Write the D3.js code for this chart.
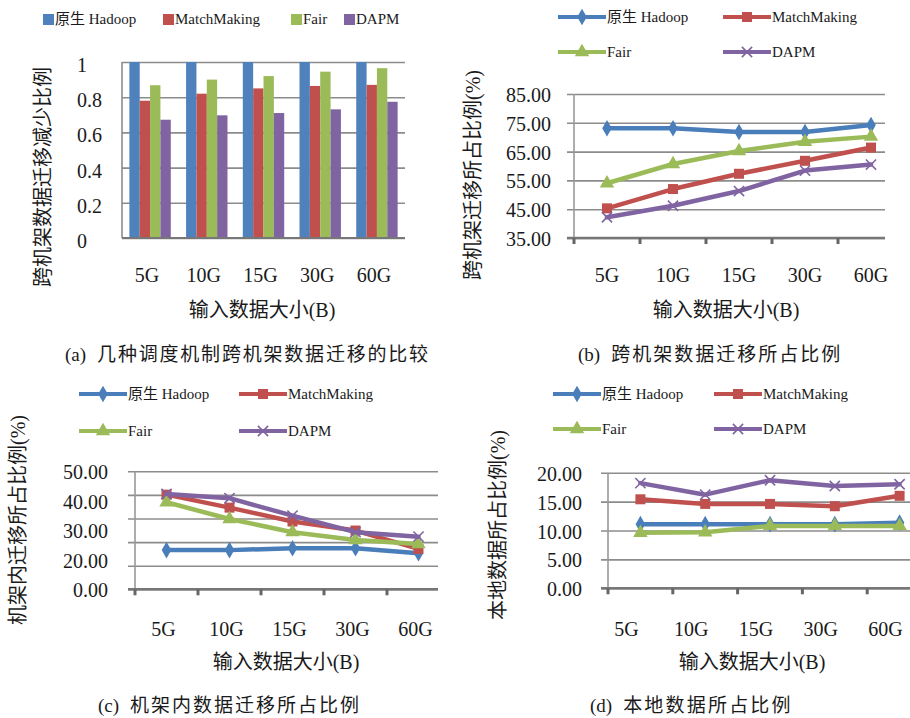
<!DOCTYPE html>
<html>
<head>
<meta charset="utf-8">
<script src="https://cdn.jsdelivr.net/npm/d3@7"></script>
<style>
  body { margin: 0; background: #fff; }
  svg text { font-family: "Liberation Serif", "Times New Roman", "Noto Sans CJK SC", serif; fill: #1a1a1a; }
</style>
</head>
<body>
<svg id="fig" width="910" height="718"></svg>
<script>
const categories = ['5G', '10G', '15G', '30G', '60G']
const seriesNames = ['原生 Hadoop', 'MatchMaking', 'Fair', 'DAPM']

// (a) 跨机架数据迁移减少比例
const reductionHadoop = [1, 1, 1, 1, 1]
const reductionMatch = [0.78, 0.82, 0.85, 0.864, 0.87]
const reductionFair = [0.868, 0.90, 0.92, 0.945, 0.965]
const reductionDapm = [0.672, 0.697, 0.71, 0.731, 0.774]
const reductionTicks = [0, 0.2, 0.4, 0.6, 0.8, 1]

// (b) 跨机架迁移所占比例
const crossHadoop = [73.1, 73.1, 71.8, 71.8, 74.2]
const crossMatch = [45.3, 52.0, 57.3, 61.8, 66.4]
const crossFair = [54.0, 60.7, 65.2, 68.4, 70.2]
const crossDapm = [42.2, 46.2, 51.3, 58.4, 60.5]
const crossTicks = [35, 45, 55, 65, 75, 85]

// (c) 机架内迁移所占比例
const intraHadoop = [16.6, 16.6, 17.4, 17.4, 15.3]
const intraMatch = [40.1, 34.6, 28.7, 24.9, 17.1]
const intraFair = [36.9, 29.8, 24.2, 20.9, 19.2]
const intraDapm = [40.4, 38.6, 31.2, 24.2, 22.3]
const intraGrid = [0, 10, 20, 30, 40, 50]
const intraTickLabels = ['50.00', '40.00', '30.00', '20.00', '0.00']

// (d) 本地数据所占比例
const localHadoop = [11.1, 11.1, 11.1, 11.1, 11.35]
const localMatch = [15.4, 14.6, 14.6, 14.2, 16.0]
const localFair = [9.6, 9.7, 10.8, 10.8, 10.8]
const localDapm = [18.2, 16.2, 18.7, 17.7, 18.0]
const localTicks = [0, 5, 10, 15, 20]

const colors = ['#4a7ebb', '#c0504d', '#9bbb59', '#8064a2']
const symbols = [d3.symbolDiamond, d3.symbolSquare, d3.symbolTriangle, d3.symbolTimes]
const symbolSizes = [80, 100, 90, 70]

const svg = d3.select('#fig')

/**
 * Draws a series marker (diamond, square, triangle or x) at a point.
 */
function drawMarker (g, i, cx, cy) {
  const p = g.append('path')
    .attr('d', d3.symbol(symbols[i], symbolSizes[i])())
    .attr('transform', 'translate(' + cx + ',' + cy + ')')
  if (i === 3) {
    p.attr('fill', 'none').attr('stroke', colors[i]).attr('stroke-width', 1.6)
  } else {
    p.attr('fill', colors[i])
  }
}

/**
 * Draws the rotated y title, x title and caption of a panel.
 */
function drawTitles (cfg) {
  svg.append('text')
    .attr('transform', 'translate(' + cfg.yTitle[0] + ',' + cfg.yTitle[1] + ') rotate(-90)')
    .attr('text-anchor', 'middle')
    .attr('dominant-baseline', 'central')
    .style('font-size', '20px')
    .text(cfg.yLabel)

  svg.append('text')
    .attr('x', cfg.xTitle[0])
    .attr('y', cfg.xTitle[1])
    .attr('text-anchor', 'middle')
    .style('font-size', '20px')
    .text('输入数据大小(B)')

  const cap = svg.append('text')
    .attr('x', cfg.caption[0])
    .attr('y', cfg.caption[1])
    .style('font-size', '19px')
  cap.append('tspan').text(cfg.captionTag)
  cap.append('tspan')
    .attr('dx', 11)
    .style('letter-spacing', cfg.captionSpacing + 'px')
    .text(cfg.captionText)
}

/**
 * Panel (a): grouped bar chart.
 */
function drawBarPanel () {
  const left = 122
  const right = 405
  const top = 62
  const bottom = 238
  const series = [reductionHadoop, reductionMatch, reductionFair, reductionDapm]

  const x0 = d3.scaleBand().domain(categories).range([left, right])
    .paddingInner(0.27).paddingOuter(0.13)
  const x1 = d3.scaleBand().domain(d3.range(series.length)).range([0, x0.bandwidth()])
  const y = d3.scaleLinear().domain([0, 1]).range([bottom, top])

  const g = svg.append('g')

  g.append('g')
    .attr('transform', 'translate(' + left + ',0)')
    .call(d3.axisLeft(y).tickValues(reductionTicks).tickSize(-(right - left)).tickFormat(''))
    .call(a => a.select('.domain').remove())
    .call(a => a.selectAll('line').attr('stroke', '#8c8c8c').attr('stroke-width', 1.6))

  categories.forEach((c, ci) => {
    series.forEach((s, si) => {
      g.append('rect')
        .attr('x', x0(c) + x1(si))
        .attr('y', y(s[ci]))
        .attr('width', x1.bandwidth())
        .attr('height', y(0) - y(s[ci]))
        .attr('fill', si === 0 ? '#4f81bd' : colors[si])
    })
  })

  g.append('line').attr('x1', left).attr('x2', left).attr('y1', top).attr('y2', bottom)
    .attr('stroke', '#8c8c8c').attr('stroke-width', 1.6)
  g.append('line').attr('x1', left).attr('x2', right).attr('y1', y(0)).attr('y2', y(0))
    .attr('stroke', '#777').attr('stroke-width', 2.2)

  g.selectAll('.ylab').data(reductionTicks).join('text')
    .attr('x', 77)
    .attr('y', d => y(d) + 3)
    .attr('dominant-baseline', 'central')
    .style('font-size', '20px')
    .text(d => d3.format('~g')(d))

  g.selectAll('.xlab').data(categories).join('text')
    .attr('x', d => x0(d) + x0.bandwidth() / 2 - 3)
    .attr('y', 282)
    .attr('text-anchor', 'middle')
    .style('font-size', '20px')
    .text(d => d)

  // legend
  const legendX = [43, 163, 291, 344]
  seriesNames.forEach((n, i) => {
    g.append('rect').attr('x', legendX[i]).attr('y', 14).attr('width', 11).attr('height', 11)
      .attr('fill', i === 0 ? '#4f81bd' : colors[i])
    g.append('text').attr('x', legendX[i] + 12).attr('y', 24)
      .style('font-size', '15px').text(n)
  })

  drawTitles({
    yTitle: [43, 177],
    yLabel: '跨机架数据迁移减少比例',
    xTitle: [262, 317],
    caption: [65, 361],
    captionSpacing: 1.8,
    captionTag: '(a)',
    captionText: '几种调度机制跨机架数据迁移的比较'
  })
}

/**
 * Panels (b), (c), (d): line charts with markers.
 */
function drawLinePanel (cfg) {
  const x = d3.scaleBand().domain(categories)
    .range([cfg.left, cfg.left + cfg.step * categories.length])
  const y = d3.scaleLinear().domain(cfg.domain).range([cfg.bottom, cfg.top])
  const cx = c => x(c) + x.bandwidth() / 2

  const g = svg.append('g')

  // gridlines with short ticks left of the axis
  g.append('g')
    .attr('transform', 'translate(' + (cfg.left - 7) + ',0)')
    .call(d3.axisLeft(y).tickValues(cfg.grid).tickSize(-(cfg.right - cfg.left + 7)).tickFormat(''))
    .call(a => a.select('.domain').remove())
    .call(a => a.selectAll('line').attr('stroke', '#8c8c8c').attr('stroke-width', 1.6))

  g.append('line').attr('x1', cfg.left).attr('x2', cfg.left).attr('y1', cfg.top).attr('y2', cfg.bottom)
    .attr('stroke', '#999').attr('stroke-width', 1.6)
  g.append('line').attr('x1', cfg.left - 7).attr('x2', cfg.right).attr('y1', cfg.bottom).attr('y2', cfg.bottom)
    .attr('stroke', '#777').attr('stroke-width', 2.4)

  g.selectAll('.xtick').data(categories).join('line')
    .attr('x1', d => x(d)).attr('x2', d => x(d))
    .attr('y1', cfg.bottom).attr('y2', cfg.bottom + 6)
    .attr('stroke', '#666').attr('stroke-width', 3)

  // y tick labels
  const labelScale = cfg.labelScale || y
  const labels = cfg.tickLabels || cfg.grid
  g.selectAll('.ylab').data(labels).join('text')
    .attr('x', cfg.labelX)
    .attr('y', d => labelScale(d) + 1)
    .attr('text-anchor', 'end')
    .attr('dominant-baseline', 'central')
    .style('font-size', '20px')
    .text(d => typeof d === 'number' ? d3.format('.2f')(d) : d)

  g.selectAll('.xlab').data(categories).join('text')
    .attr('x', d => cx(d) + cfg.xLabelDx)
    .attr('y', cfg.xLabelY)
    .attr('text-anchor', 'middle')
    .style('font-size', '20px')
    .text(d => d)

  const line = d3.line().x((d, i) => cx(categories[i])).y(d => y(d))

  cfg.series.forEach((s, si) => {
    g.append('path')
      .attr('d', line(s))
      .attr('fill', 'none')
      .attr('stroke', colors[si])
      .attr('stroke-width', 4.5)
      .attr('stroke-linejoin', 'round')
      .attr('stroke-linecap', 'round')
    s.forEach((v, i) => drawMarker(g, si, cx(categories[i]), y(v)))
  })

  // legend
  seriesNames.forEach((n, i) => {
    const lx = cfg.legendX[i % 2]
    const ly = cfg.legendY[Math.floor(i / 2)]
    g.append('line').attr('x1', lx).attr('x2', lx + 48).attr('y1', ly).attr('y2', ly)
      .attr('stroke', colors[i]).attr('stroke-width', 4)
    drawMarker(g, i, lx + 24, ly)
    g.append('text').attr('x', lx + 49).attr('y', ly)
      .attr('dominant-baseline', 'central')
      .style('font-size', '15px').text(n)
  })

  drawTitles(cfg)
}

drawBarPanel()

drawLinePanel({
  left: 574, step: 66, right: 885, top: 94, bottom: 238,
  domain: [35, 85], grid: crossTicks,
  series: [crossHadoop, crossMatch, crossFair, crossDapm],
  labelX: 551, xLabelY: 282, xLabelDx: 0,
  legendX: [558, 723], legendY: [17, 52],
  yTitle: [473, 175], yLabel: '跨机架迁移所占比例(%)',
  xTitle: [726, 317],
  caption: [578, 361], captionSpacing: 2,
  captionTag: '(b)',
  captionText: '跨机架数据迁移所占比例'
})

const intraLabelScale = d3.scalePoint().domain(intraTickLabels).range([471.3, 589.3])

drawLinePanel({
  left: 135, step: 63, right: 438, top: 471.3, bottom: 589.3,
  domain: [0, 50], grid: intraGrid,
  tickLabels: intraTickLabels, labelScale: intraLabelScale,
  series: [intraHadoop, intraMatch, intraFair, intraDapm],
  labelX: 108, xLabelY: 636, xLabelDx: -3,
  legendX: [79, 239], legendY: [394, 431],
  yTitle: [18, 520], yLabel: '机架内迁移所占比例(%)',
  xTitle: [286, 669],
  caption: [98, 712], captionSpacing: 2,
  captionTag: '(c)',
  captionText: '机架内数据迁移所占比例'
})

drawLinePanel({
  left: 608, step: 64.8, right: 910, top: 472.7, bottom: 588.3,
  domain: [0, 20], grid: localTicks,
  series: [localHadoop, localMatch, localFair, localDapm],
  labelX: 582, xLabelY: 636, xLabelDx: -14,
  legendX: [553, 714], legendY: [394, 429],
  yTitle: [498, 525], yLabel: '本地数据所占比例(%)',
  xTitle: [752, 669],
  caption: [590, 712], captionSpacing: 2.2,
  captionTag: '(d)',
  captionText: '本地数据所占比例'
})
</script>
</body>
</html>
